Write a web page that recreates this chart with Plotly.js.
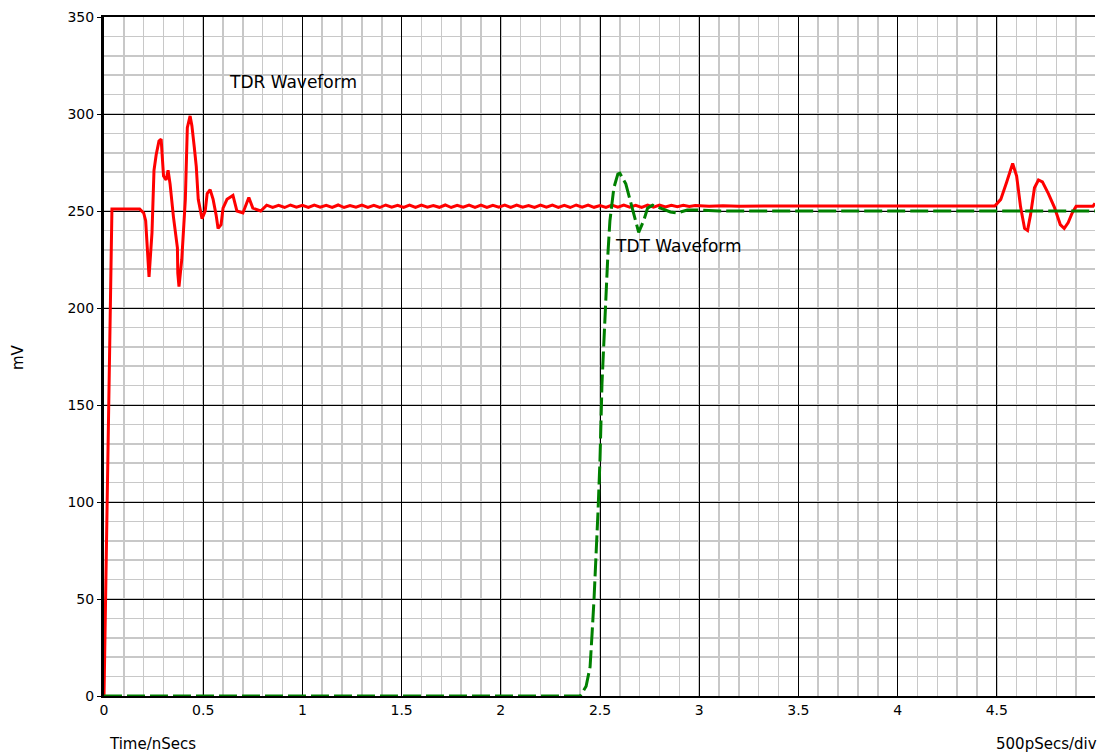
<!DOCTYPE html>
<html>
<head>
<meta charset="utf-8">
<script src="https://cdn.plot.ly/plotly-3.0.1.min.js"></script>
<style>html,body{margin:0;padding:0;background:#fff;}#chart{width:1104px;height:754px;}</style>
</head>
<body>
<div id="chart"></div>
<script>
// TDR waveform (red, solid): initial step and reflections
const tdrStartX = [0, 0.04, 0.18, 0.2, 0.21, 0.227, 0.242, 0.252, 0.263, 0.277,
  0.288, 0.3, 0.313, 0.323, 0.333, 0.35, 0.37, 0.372, 0.378, 0.392,
  0.41, 0.42, 0.434, 0.443, 0.455, 0.465, 0.475, 0.494, 0.51, 0.52,
  0.535, 0.55, 0.565, 0.575, 0.59, 0.6, 0.62, 0.65, 0.67, 0.7,
  0.73, 0.75, 0.79];
const tdrStartY = [0, 251, 251, 249, 245, 216, 239, 271, 279, 286,
  287, 268, 266, 271, 264, 247, 231, 218, 211, 225,
  256, 293, 299, 294, 283, 273, 256, 246, 250, 259,
  261, 256, 248, 241, 243, 251.5, 256, 258, 250, 249,
  257, 251.5, 250];
// TDR settled part with small ripple
const tdrMidX = [0.82, 0.85, 0.88, 0.91, 0.94, 0.97, 1.00, 1.03, 1.06, 1.09,
  1.12, 1.15, 1.18, 1.21, 1.24, 1.27, 1.30, 1.33, 1.36, 1.39,
  1.42, 1.45, 1.48, 1.51, 1.54, 1.57, 1.60, 1.63, 1.66, 1.69,
  1.72, 1.75, 1.78, 1.81, 1.84, 1.87, 1.90, 1.93, 1.96, 1.99,
  2.02, 2.05, 2.08, 2.11, 2.14, 2.17, 2.20, 2.23, 2.26, 2.29,
  2.32, 2.35, 2.38, 2.41, 2.44, 2.47, 2.50, 2.53, 2.56, 2.59,
  2.62, 2.65, 2.68, 2.71, 2.74, 2.77, 2.80, 2.83, 2.86, 2.89,
  2.92, 2.95, 2.98, 3.05, 3.12, 3.2, 3.3, 3.4, 3.6, 4.49];
const tdrMidY = [253, 251.9, 252.9, 251.8, 253.1, 252, 252.9, 251.8, 253, 252,
  252.9, 251.9, 253.1, 251.8, 252.8, 252, 253, 251.9, 252.9, 251.8,
  253.1, 252, 252.9, 251.9, 253, 251.8, 253, 252, 252.8, 251.9,
  253.1, 251.8, 252.9, 252, 253, 251.9, 253, 251.8, 252.9, 252,
  253, 251.9, 253.1, 252, 252.8, 251.8, 253, 252, 253, 251.9,
  252.9, 251.8, 253.1, 252, 253, 251.9, 252.8, 251.8, 253, 252,
  253, 252, 252.9, 251.9, 253, 252, 253, 252.1, 252.9, 252.2,
  252.9, 252.3, 252.8, 252.4, 252.7, 252.5, 252.6, 252.6, 252.6, 252.6];
// TDR far-end reflection
const tdrEndX = [4.52, 4.55, 4.58, 4.6, 4.62, 4.64, 4.655, 4.67, 4.69, 4.71,
  4.73, 4.76, 4.79, 4.82, 4.84, 4.86, 4.88, 4.9, 4.985, 4.995];
const tdrEndY = [256, 265, 274.5, 268, 252, 241, 240, 248, 262, 266,
  265, 259, 252, 243, 241, 244, 249, 252.5, 252.5, 254];

// TDT waveform (green, dashed)
const tdtX = [0, 2.40, 2.43, 2.45, 2.46, 2.47, 2.49, 2.50, 2.51, 2.52,
  2.53, 2.54, 2.55, 2.57, 2.59, 2.60, 2.63, 2.655, 2.68, 2.695,
  2.72, 2.74, 2.765, 2.8, 2.855, 2.89, 2.94, 3.0, 3.1, 4.995];
const tdtY = [0, 0, 5, 15, 32, 50, 95, 122, 161, 185,
  208, 228, 245, 262, 269, 269.5, 264, 254, 244, 239,
  245, 251.5, 253, 251.5, 249.5, 249, 250.5, 250.5, 250, 250];

const xTickVals = [0, 0.5, 1, 1.5, 2, 2.5, 3, 3.5, 4, 4.5];
const xTickText = ['0', '0.5', '1', '1.5', '2', '2.5', '3', '3.5', '4', '4.5'];
const yTickVals = [0, 50, 100, 150, 200, 250, 300, 350];

const FONT = '"DejaVu Sans", "Noto Sans", sans-serif';

const tdrX = tdrStartX.concat(tdrMidX, tdrEndX);
const tdrY = tdrStartY.concat(tdrMidY, tdrEndY);

const traces = [
  {x: tdrX, y: tdrY, type: 'scatter', mode: 'lines', line: {color: '#ff0000', width: 3}, hoverinfo: 'skip'},
  {x: tdtX, y: tdtY, type: 'scatter', mode: 'lines', line: {color: '#008000', width: 3, dash: '18px,5px'}, hoverinfo: 'skip'}
];

const layout = {
  width: 1104, height: 754,
  margin: {l: 104, r: 9, t: 17, b: 58},
  paper_bgcolor: '#ffffff', plot_bgcolor: '#ffffff',
  showlegend: false,
  font: {family: FONT, size: 14, color: '#000'},
  xaxis: {
    range: [0, 4.995], tickvals: xTickVals, ticktext: xTickText,
    showgrid: true, gridcolor: '#000000', gridwidth: 1,
    minor: {dtick: 0.1, showgrid: true, gridcolor: '#c8c8c8', gridwidth: 1.5},
    showline: true, linecolor: '#000', linewidth: 2, mirror: true,
    ticks: '', zeroline: false, tickfont: {size: 14}
  },
  yaxis: {
    range: [0, 350], tickvals: yTickVals,
    showgrid: true, gridcolor: '#000000', gridwidth: 1,
    minor: {dtick: 10, showgrid: true, gridcolor: '#c8c8c8', gridwidth: 1.5},
    showline: true, linecolor: '#000', linewidth: 3,
    ticks: 'outside', ticklen: 4, tickcolor: '#000',
    zeroline: false, tickfont: {size: 14}
  },
  annotations: [
    {x: 0.62, y: 316.5, xref: 'x', yref: 'y', text: 'TDR Waveform', showarrow: false, xanchor: 'left', yanchor: 'middle', font: {size: 17}},
    {x: 2.565, y: 232, xref: 'x', yref: 'y', text: 'TDT Waveform', showarrow: false, xanchor: 'left', yanchor: 'middle', font: {size: 17}},
    {x: 107, y: 744, xref: 'paper', yref: 'paper', text: 'Time/nSecs', showarrow: false, xanchor: 'left', yanchor: 'middle', font: {size: 15}},
    {x: 1099, y: 744, xref: 'paper', yref: 'paper', text: '500pSecs/div', showarrow: false, xanchor: 'right', yanchor: 'middle', font: {size: 15}},
    {x: 18, y: 357, xref: 'paper', yref: 'paper', text: 'mV', showarrow: false, textangle: -90, xanchor: 'center', yanchor: 'middle', font: {size: 15}}
  ]
};
// convert pixel positions for paper annotations
const pw = 1104 - 104 - 9, ph = 754 - 17 - 58;
layout.annotations.forEach(a => {
  if (a.xref === 'paper') {
    a.x = (a.x - 104) / pw;
    a.y = (754 - 58 - a.y) / ph;
  }
});

Plotly.newPlot('chart', traces, layout, {staticPlot: true, displayModeBar: false});
</script>
</body>
</html>
